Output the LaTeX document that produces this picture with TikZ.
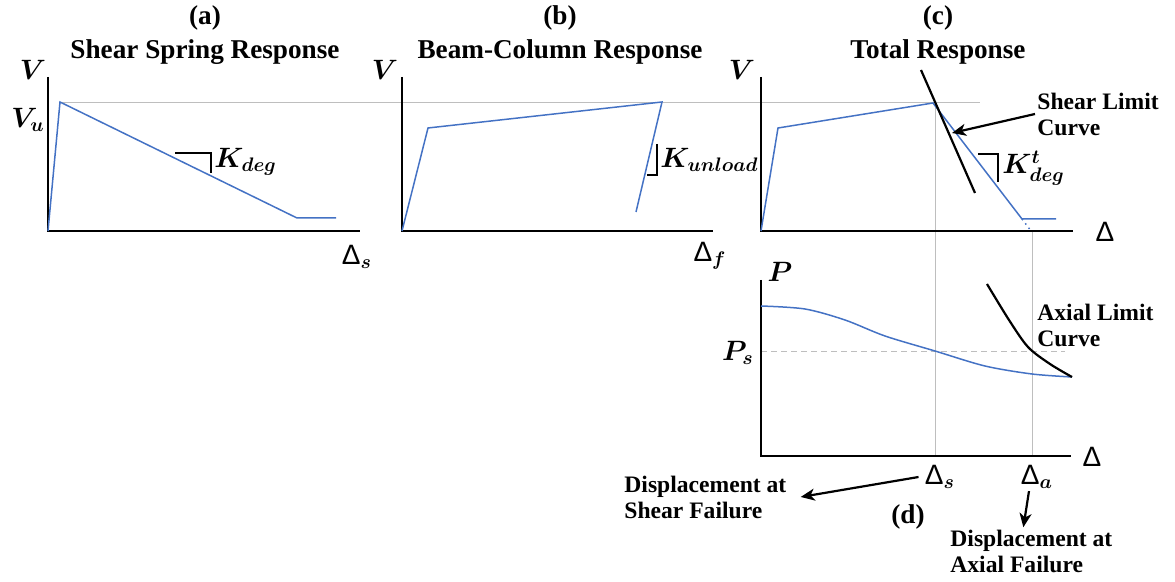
\RequirePackage{fix-cm}
\documentclass[tikz,border=0pt]{standalone}
\usepackage{amsmath}
\usepackage{bm}
\usepackage{fontspec}
\setmainfont{LiberationSerif}[Extension=.ttf, UprightFont=*-Regular, BoldFont=*-Bold, ItalicFont=*-Italic, BoldItalicFont=*-BoldItalic]
\newfontfamily\dltfont{Liberation Sans}
\usepackage{xcolor}
\usetikzlibrary{positioning}
\usetikzlibrary{arrows.meta}

\definecolor{respblue}{RGB}{68,114,196}
\definecolor{guidegray}{RGB}{190,190,190}

\newcommand{\dlt}{\mbox{\dltfont Δ}}

\tikzset{
	axis/.style={line width=1pt},
	resp/.style={line width=0.75pt, respblue},
	guide/.style={line width=0.4pt, guidegray},
	limit/.style={line width=1.1pt},
	slope/.style={line width=0.9pt},
	pointer/.style={-{Stealth[length=7pt, width=6pt, inset=2pt]}, line width=1.1pt},
	lbl/.style={font=\fontsize{14}{16}\selectfont, inner sep=1pt},
	title/.style={font=\bfseries\fontsize{13.6}{17}\selectfont, align=center},
	note/.style={font=\bfseries\fontsize{11.8}{13}\selectfont, align=left, inner sep=1pt},
}

\begin{document}
\begin{tikzpicture}[x=0.5pt,y=-0.5pt]
		\useasboundingbox (0,0) rectangle (1175,582);
		
		%guide lines
		\draw[guide] (60,102) -- (980,102);
		\draw[guide] (935,103) -- (935,456);
		\draw[guide] (1032,231) -- (1032,456);
		\draw[guide, dash pattern=on 3pt off 2pt] (761,351) -- (1065,351);
		
		%(a) shear spring
		\node[title] (ta) at (205,35) {(a)\\Shear Spring Response};
		\coordinate (a0) at (48,231);
		\coordinate (ay) at (48,77);
		\coordinate (ax) at (360,231);
		\draw[axis] (ay) -- (a0) -- (ax);
		\draw[resp] (a0) -- (60,102) -- (297,218) -- (336,218);
		\coordinate (ka) at (211,153);
		\draw[slope] (175,153) -- (ka) -- (211,173);
		\node[lbl] (va) at (33,70) {$\bm{V}$};
		\node[lbl] (vu) at (28,120) {$\bm{V_u}$};
		\node[lbl, anchor=west] (kdeg) at (212,162) {$\bm{K_{deg}}$};
		\node[lbl] (dsa) at (357,257) {$\dlt_{\bm{s}}$};
		
		%(b) beam-column
		\node[title] (tb) at (560,35) {(b)\\Beam-Column Response};
		\coordinate (b0) at (402,231);
		\coordinate (by) at (402,77);
		\coordinate (bx) at (713,231);
		\draw[axis] (by) -- (b0) -- (bx);
		\draw[resp] (b0) -- (428,128) -- (662,102) -- (636,212);
		\coordinate (kb) at (657,175);
		\draw[slope] (657,144) -- (kb) -- (647,175);
		\node[lbl] (vb) at (385,70) {$\bm{V}$};
		\node[lbl, anchor=west] (kun) at (658,160) {$\bm{K_{unload}}$};
		\node[lbl] (dfb) at (710,256) {$\dlt_{\bm{f}}$};
		
		%(c) total
		\node[title] (tc) at (938,35) {(c)\\Total Response};
		\coordinate (c0) at (761,231);
		\coordinate (cy) at (761,77);
		\coordinate (cx) at (1073,231);
		\draw[axis] (cy) -- (c0) -- (cx);
		\coordinate (cp) at (933,103);
		\coordinate (cr) at (1022,219);
		\draw[resp] (c0) -- (778,128) -- (cp) -- (cr) -- (1056,219);
		\draw[resp, dotted] (cr) -- (1031,231);
		\draw[limit] (921,70) -- (975,193);
		\coordinate (slt) at (952,133);
		\node[note, anchor=west] (slc) at (1035,114) {Shear Limit\\Curve};
		\draw[pointer] (slc.west) -- (slt);
		\coordinate (kc) at (998,154);
		\draw[slope] (978,154) -- (kc) -- (998,182);
		\node[lbl, anchor=west] (ktdeg) at (1000,168) {$\bm{K^t_{deg}}$};
		\node[lbl] (vc) at (742,70) {$\bm{V}$};
		\node[lbl] (dc) at (1105,232) {$\dlt$};
		
		%(d) axial
		\coordinate (d0) at (761,456);
		\coordinate (dy) at (761,280);
		\coordinate (dx) at (1071,456);
		\draw[axis] (dy) -- (d0) -- (dx);
		\draw[resp] plot[smooth] coordinates {(761,306) (805,309) (845,320) (885,336) (935,351) (985,366) (1032,374) (1072,377)};
		\draw[limit] plot[smooth] coordinates {(987,284) (1009,320) (1028,347) (1050,364) (1072,377)};
		\node[note, anchor=west] (alc) at (1035,325) {Axial Limit\\Curve};
		\node[lbl] (pd) at (780,272) {$\bm{P}$};
		\node[lbl] (ps) at (738,353) {$\bm{P_s}$};
		\node[lbl] (dd) at (1092,457) {$\dlt$};
		\node[lbl] (dsl) at (940,477) {$\dlt_{\bm{s}}$};
		\node[lbl] (dal) at (1037,477) {$\dlt_{\bm{a}}$};
		\node[title] (td) at (908,517) {(d)};
		
		%failure notes
		\node[note, anchor=west] (dsf) at (622,497) {Displacement at\\Shear Failure};
		\node[note, anchor=west] (daf) at (948,551) {Displacement at\\Axial Failure};
		\draw[pointer] ([xshift=-2pt]dsl.west) -- ([xshift=6pt]dsf.east);
		\draw[pointer] ([xshift=-4pt]dal.south) -- ([xshift=-4pt]daf.north);
\end{tikzpicture}
\end{document}
